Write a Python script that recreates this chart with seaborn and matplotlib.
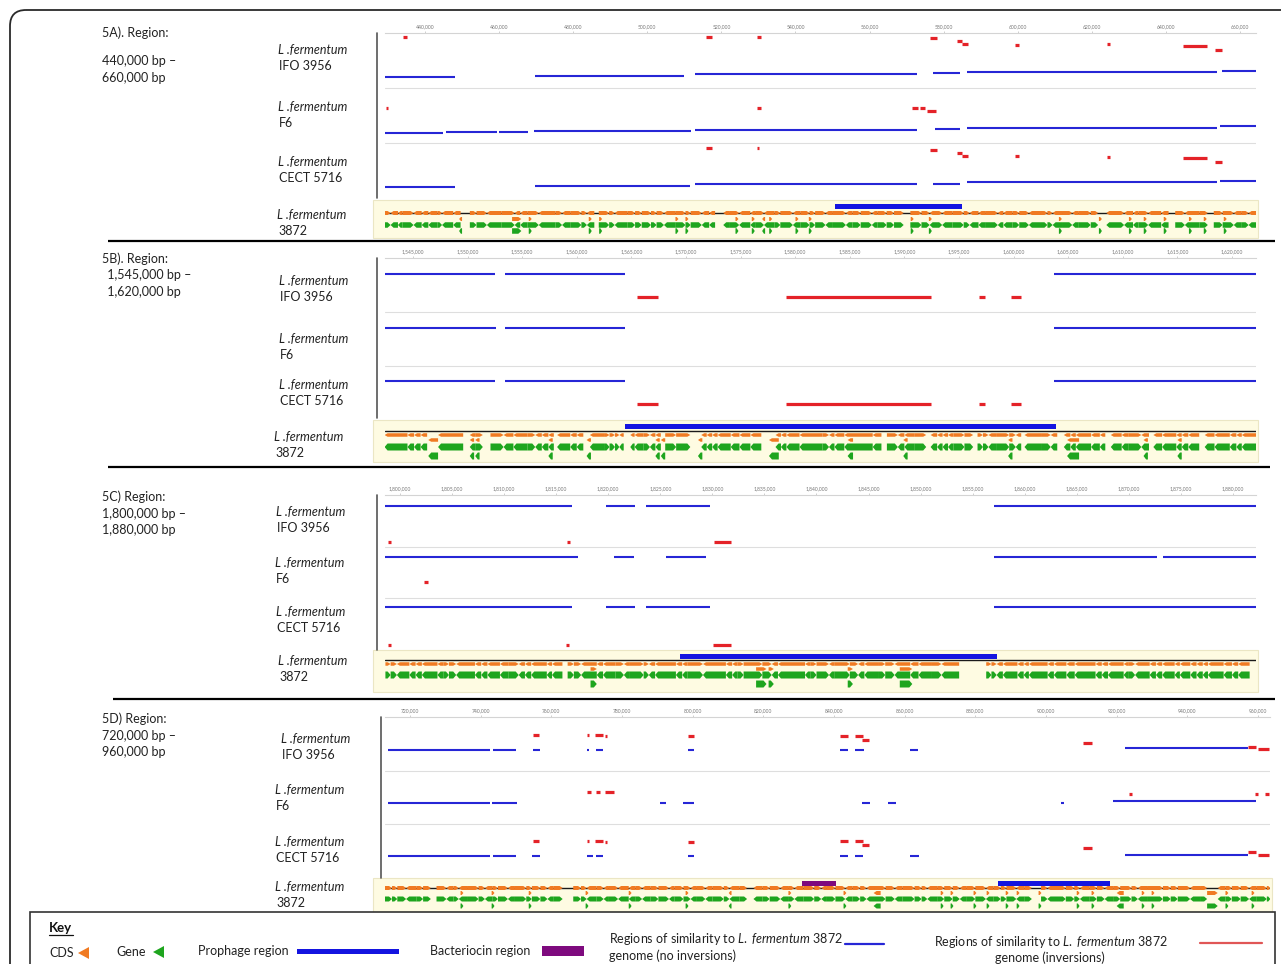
import matplotlib
matplotlib.use("Agg")
import matplotlib.pyplot as plt
import seaborn as sns
import numpy as np
import pandas as pd
from matplotlib.patches import Rectangle, FancyBboxPatch, Polygon
from matplotlib.collections import PolyCollection

W, H = 1281, 964

# ------------------------------------------------------------------ data
region_titles = ["5A). Region:", "5B). Region:", "5C) Region:", "5D) Region:"]
region_ranges = [("440,000 bp \u2013", "660,000 bp"),
                 (" 1,545,000 bp \u2013", " 1,620,000 bp"),
                 ("1,800,000 bp \u2013", "1,880,000 bp"),
                 ("720,000 bp \u2013", "960,000 bp")]
strains = ["IFO 3956", "F6", "CECT 5716", "3872"]
tick_start_kb = [440, 1545, 1800, 720]
tick_stop_kb = [660, 1620, 1880, 960]
tick_step_kb = [20, 5, 5, 20]

# similarity blocks (start kb, end kb, level within track)
A_IFO_blue = [(429.2, 448.1, 0.80), (469.7, 509.9, 0.78), (512.9, 572.8, 0.74), (577.1, 584.4, 0.73),
              (586.3, 653.8, 0.71), (655.1, 664.3, 0.69)]
A_IFO_red = [(434.1, 435.1, 0.07), (515.9, 517.5, 0.07), (529.6, 530.7, 0.07), (576.3, 578.2, 0.09),
             (583.6, 584.9, 0.15), (584.9, 586.6, 0.20), (599.3, 600.3, 0.22), (624.1, 624.9, 0.20),
             (644.6, 651.1, 0.24), (653.3, 655.1, 0.31)]
A_F6_blue = [(429.2, 444.9, 0.81), (445.7, 459.4, 0.80), (460.0, 467.8, 0.80), (469.4, 511.8, 0.78),
             (512.9, 572.8, 0.76), (577.7, 584.4, 0.74), (586.3, 653.8, 0.72), (654.6, 664.3, 0.70)]
A_F6_red = [(429.5, 430.0, 0.37), (529.6, 530.7, 0.37), (571.5, 573.1, 0.37), (573.6, 575.0, 0.37),
            (575.5, 577.9, 0.41)]
A_CECT_blue = [(429.2, 448.1, 0.80), (469.7, 511.5, 0.79), (512.9, 572.8, 0.75), (577.1, 584.4, 0.75),
               (586.3, 653.8, 0.71), (654.6, 664.3, 0.70)]
A_CECT_red = [(515.9, 517.5, 0.09), (529.6, 530.2, 0.09), (576.3, 578.2, 0.13), (583.6, 584.9, 0.18),
              (584.9, 586.6, 0.23), (599.3, 600.3, 0.23), (624.1, 624.9, 0.25), (644.6, 651.1, 0.27),
              (653.3, 655.1, 0.34)]

B_IFO_blue = [(1542.4, 1552.5, 0.30), (1553.4, 1564.4, 0.30), (1603.7, 1622.2, 0.30)]
B_IFO_red = [(1565.5, 1567.4, 0.72), (1579.2, 1592.4, 0.72), (1596.8, 1597.4, 0.72), (1599.8, 1600.7, 0.72)]
B_F6_blue = [(1542.4, 1552.6, 0.30), (1553.4, 1564.4, 0.30), (1603.7, 1622.2, 0.30)]
B_F6_red = []
B_CECT_blue = [(1542.4, 1552.5, 0.28), (1553.4, 1564.4, 0.28), (1603.7, 1622.2, 0.28)]
B_CECT_red = [(1565.5, 1567.4, 0.70), (1579.2, 1592.4, 0.70), (1596.8, 1597.4, 0.70), (1599.8, 1600.7, 0.70)]

C_IFO_blue = [(1798.6, 1816.5, 0.21), (1819.8, 1822.6, 0.21), (1823.6, 1829.8, 0.21), (1857.0, 1882.2, 0.21)]
C_IFO_red = [(1798.85, 1799.15, 0.91), (1816.0, 1816.3, 0.91), (1830.2, 1831.8, 0.91)]
C_F6_blue = [(1798.6, 1817.1, 0.20), (1820.6, 1822.5, 0.20), (1825.5, 1829.4, 0.20), (1857.0, 1872.7, 0.20),
             (1873.3, 1882.2, 0.20)]
C_F6_red = [(1802.3, 1802.7, 0.68)]
C_CECT_blue = [(1798.6, 1816.5, 0.17), (1819.8, 1822.6, 0.17), (1823.6, 1829.8, 0.17), (1857.0, 1882.2, 0.17)]
C_CECT_red = [(1798.85, 1799.15, 0.90), (1815.9, 1816.2, 0.90), (1830.1, 1831.8, 0.90)]

D_IFO_blue = [(713.8, 742.6, 0.61), (743.5, 750.0, 0.61), (754.8, 756.8, 0.61), (770.1, 770.7, 0.61),
              (772.6, 774.6, 0.61), (798.7, 800.4, 0.61), (841.7, 844.0, 0.61), (846.0, 848.5, 0.61),
              (861.5, 863.8, 0.61), (922.4, 957.2, 0.58)]
D_IFO_red = [(754.8, 756.5, 0.34), (770.1, 770.7, 0.34), (772.4, 774.6, 0.34), (775.2, 775.8, 0.36),
             (798.7, 800.4, 0.36), (841.7, 844.0, 0.36), (846.0, 848.2, 0.36), (847.9, 849.9, 0.42),
             (910.5, 913.0, 0.48), (957.2, 959.4, 0.56), (959.9, 963.1, 0.60)]
D_F6_blue = [(713.8, 742.6, 0.60), (743.2, 750.3, 0.60), (790.8, 792.5, 0.60), (797.3, 800.4, 0.60),
             (847.9, 850.2, 0.60), (855.3, 857.5, 0.60), (904.3, 905.1, 0.60), (918.9, 959.4, 0.57)]
D_F6_red = [(770.1, 771.2, 0.40), (772.6, 773.8, 0.40), (775.2, 777.7, 0.40), (923.5, 924.3, 0.44),
            (959.2, 959.9, 0.44), (962.0, 963.1, 0.44)]
D_CECT_blue = [(713.8, 742.6, 0.59), (743.5, 750.0, 0.59), (754.5, 756.8, 0.59), (770.1, 771.8, 0.59),
               (772.6, 774.6, 0.59), (798.7, 800.4, 0.59), (841.7, 844.0, 0.59), (846.0, 848.2, 0.59),
               (861.5, 864.0, 0.59), (922.4, 957.2, 0.57)]
D_CECT_red = [(754.8, 756.5, 0.31), (770.1, 770.7, 0.31), (772.4, 774.6, 0.31), (775.2, 775.8, 0.33),
              (798.7, 800.4, 0.33), (841.7, 844.0, 0.31), (846.0, 848.2, 0.31), (847.9, 849.9, 0.38),
              (910.5, 913.0, 0.44), (957.2, 959.4, 0.52), (959.9, 963.1, 0.57)]

# annotated features of L. fermentum 3872 (kb)
prophage_A = [(550.7, 585.0)]
prophage_B = [(1564.4, 1603.9)]
prophage_C = [(1826.9, 1857.3)]
prophage_D = [(886.4, 918.1)]
bacteriocin_D = [(830.9, 840.6)]

# gene runs: (length kb, strand) ; 'g' = intergenic stretch
gene_start = [429.2, 1542.4, 1798.6, 712.9]
genes_A = [(1.5, '+'), (2.0, '-'), (1.2, '-'), (3.0, '+'), (2.2, '-'), (1.8, '-'), (2.5, '-'), (1.2, '+'), (3.0, '-'), (2.0, '-'),
           (2.5, 'g'), (1.8, '+'), (2.8, '+'), (4.0, '-'), (3.5, '+'), (1.5, '-'), (2.0, '-'), (3.0, '+'), (4.5, '-'), (1.8, '+'),
           (2.2, '-'), (3.0, '+'), (1.5, '+'), (2.0, '-'), (1.2, 'g'), (2.8, '+'), (1.5, '+'), (3.5, '-'), (2.0, '+'), (1.8, '+'),
           (2.5, '+'), (1.5, '+'), (2.0, '+'), (3.2, '-'), (2.6, '+'), (1.4, '+'), (3.0, '+'), (2.0, '-'), (1.6, '-'), (2.2, 'g'),
           (1.8, '-'), (2.5, '+'), (3.0, '-'), (1.5, '-'), (2.2, '+'), (2.8, '-'), (1.6, '+'), (3.4, '+'), (2.0, '-'), (2.5, '+'),
           (1.5, '+'), (2.8, '+'), (2.0, '-'), (3.5, '+'), (1.8, '-'), (2.2, '+'), (3.0, '+'), (1.5, '-'), (2.5, '+'), (2.0, '+'),
           (2.6, '+'), (1.8, 'g'), (3.0, '+'), (2.2, '+'), (2.0, '-'), (1.4, '+'), (2.8, '-'), (3.0, '+'), (1.6, '+'), (2.4, '-'),
           (2.0, '-'), (3.2, '+'), (1.5, '-'), (2.5, '-'), (1.8, '+'), (2.6, '+'), (3.0, '-'), (2.0, '+'), (1.4, '+'), (2.8, '-'),
           (2.5, '+'), (1.6, '-'), (3.4, '+'), (2.0, '+'), (2.2, 'g'), (1.8, '-'), (3.0, '+'), (2.4, '-'), (1.5, '-'), (2.6, '+'),
           (3.5, '-'), (2.0, '-'), (1.8, 'g'), (2.6, '+'), (4.0, '-'), (2.2, '+'), (1.6, 'g'), (2.4, '+'), (3.0, '+'), (2.0, '-'),
           (2.0, '+'), (2.0, '-')]
genes_B = [(2.1, '-'), (0.6, '-'), (0.6, '-'), (0.6, '-'), (1.0, 'g'),
           (2.3, '-'), (0.6, 'g'), (0.5, '-'), (0.7, '+'), (0.7, 'g'),
           (1.2, '+'), (0.9, '-'), (1.3, '-'), (0.7, '+'), (0.6, '-'), (0.6, '-'), (0.5, '-'), (0.3, 'g'),
           (1.2, '-'), (0.6, '-'), (0.6, '-'), (0.6, 'g'),
           (1.3, '-'), (0.5, '+'), (0.5, '+'), (0.4, '+'), (0.4, '-'), (0.6, 'g'),
           (0.4, '-'), (0.8, '-'), (0.6, '+'), (0.5, '-'), (0.5, '-'), (0.4, 'g'),
           (1.0, '+'), (1.3, '+'), (1.0, 'g'),
           (0.5, '-'), (0.5, '-'), (0.5, '-'), (1.2, '-'), (0.8, '-'), (1.0, '-'), (1.0, '-'), (1.3, 'g'),
           (0.5, '-'), (0.5, '-'), (1.2, '-'), (2.1, '-'),
           (0.6, '+'), (0.5, '-'), (0.9, '-'), (2.6, '-'), (0.8, '-'), (0.5, 'g'),
           (1.0, '+'), (0.6, '-'), (0.9, '-'), (1.1, '+'), (0.4, 'g'),
           (0.6, '-'), (0.5, '-'), (0.5, '-'), (0.5, '-'), (1.0, '+'), (0.8, '+'), (0.4, 'g'),
           (0.5, '+'), (0.5, '+'), (0.7, '-'), (1.2, '+'), (0.6, '+'), (0.5, '-'), (0.3, 'g'),
           (1.6, '-'), (0.8, '+'), (0.6, '-'), (0.6, 'g'),
           (0.6, '-'), (0.5, '-'), (1.4, '-'), (0.8, '-'), (0.5, '-'), (0.5, 'g'),
           (1.0, '-'), (0.6, '-'), (1.2, '+'), (0.7, '-'), (0.4, 'g'),
           (0.8, '-'), (1.3, '-'), (0.5, '-'), (0.6, '-'), (1.0, '-'), (0.5, 'g'),
           (0.9, '-'), (1.4, '-'), (0.6, '-'), (0.5, '-'), (1.3, '-')]
genes_C = [(0.5, '+'), (0.6, '+'), (1.2, '-'), (0.6, '-'), (0.6, '-'), (1.5, '-'), (0.6, '-'), (0.5, '+'), (0.7, '+'), (1.8, '-'),
           (0.6, '-'), (0.6, '-'), (1.2, '-'), (0.8, '-'), (1.0, '+'), (0.6, '-'), (0.6, '-'), (1.5, '-'), (0.5, '-'), (1.0, '-'),
           (0.5, 'g'),
           (0.6, '+'), (0.7, '+'), (1.5, '-'), (0.6, '-'), (1.2, '-'), (0.8, '+'), (0.5, '-'), (1.4, '+'), (0.5, '+'), (0.6, '-'),
           (2.0, '-'), (0.6, '-'), (0.5, '-'), (1.5, '+'), (2.2, '-'), (0.6, '-'), (0.5, '-'), (0.6, '+'), (1.8, '+'), (0.9, '+'),
           (0.6, '-'), (2.6, '-'), (0.5, '-'), (0.6, '+'), (1.2, '+'), (0.5, '-'), (1.5, '+'), (0.8, '+'), (0.6, '-'), (1.4, '-'),
           (0.6, '+'), (0.9, '+'), (1.5, '-'), (0.8, '-'), (1.2, '-'), (1.0, '+'), (1.7, '-'), (2.6, 'g'),
           (0.5, '+'), (0.5, '+'), (0.6, '-'), (1.4, '-'), (0.6, '-'), (0.5, '-'), (1.8, '-'), (0.6, '-'), (1.2, '-'), (0.8, '-'),
           (2.0, '-'), (0.6, '-'), (0.6, '-'), (1.5, '-'), (0.5, '-'), (0.6, '+'), (1.4, '-'), (0.6, '-'), (0.6, '-'), (1.2, '-'),
           (0.5, '-'), (1.0, '-'), (0.6, '-'), (0.6, '-'), (0.5, '-'), (1.5, '-'), (0.8, '-'), (0.6, '-'), (1.1, '-')]
genes_D = [(2.0, '+'), (1.5, '+'), (2.5, '+'), (3.0, '-'), (1.8, '+'), (2.2, '+'), (1.6, 'g'), (2.8, '+'), (2.0, '-'), (1.5, '+'),
           (2.6, '-'), (3.0, '+'), (1.8, '+'), (2.2, '-'), (1.5, '+'), (2.8, '+'), (2.0, '-'), (3.2, '+'), (1.6, '+'), (2.4, '+'),
           (2.0, '+'), (1.8, '-'), (2.5, '+'), (3.0, 'g'), (2.2, '+'), (1.6, '+'), (2.8, '-'), (2.0, '+'), (1.5, '-'), (2.6, '+'),
           (3.0, '-'), (2.0, '-'), (1.8, '+'), (2.4, '-'), (2.2, '+'), (3.0, '+'), (1.6, '-'), (2.5, '+'), (2.0, '+'), (1.8, '-'),
           (2.4, '+'), (2.0, '-'), (3.2, '+'), (1.6, '+'), (2.8, '-'), (2.2, '+'), (1.8, 'g'), (2.6, '-'), (2.0, '+'), (3.0, '+'),
           (2.2, '-'), (1.8, '+'), (2.6, '-'), (3.0, '+'), (2.0, '+'), (1.6, '-'), (2.4, '+'), (2.8, '+'), (2.0, '-'), (2.2, '+'),
           (1.8, '+'), (2.4, '-'), (3.0, '+'), (2.6, '+'), (2.2, '-'), (3.4, '+'), (2.0, '+'), (1.6, '+'), (2.8, '-'), (2.0, '+'),
           (2.4, '+'), (2.0, '+'), (1.8, '-'), (2.6, '+'), (3.0, '+'), (2.2, '-'), (2.0, '+'), (1.6, '+'), (2.8, '+'), (2.4, '-'),
           (2.0, '+'), (2.6, 'g'), (1.8, '+'), (3.0, '-'), (2.2, '+'), (2.4, '+'), (1.6, '+'), (2.8, '-'), (2.0, '+'), (2.2, '+'),
           (2.4, '-'), (2.0, '+'), (3.2, '+'), (1.8, '+'), (2.6, '-'), (4.5, '+'), (2.2, '+'), (2.0, '+'), (3.5, '+'), (2.8, '-'),
           (2.0, '+'), (3.0, 'g'), (2.2, '-'), (1.8, '+'), (2.5, '+'), (2.4, '+'), (2.0, '-'), (3.0, '+'), (1.0, '+')]

# genes drawn on the offset (overlap) row: (start kb, end kb, strand)
lower_A = [(449.2, 450.0, '-'), (463.5, 466.0, '+'), (468.0, 468.8, '+'), (484.2, 485.0, '+'), (487.0, 487.8, '+'),
           (507.6, 508.4, '+'), (510.3, 511.1, '+'), (523.8, 524.6, '+'), (528.2, 529.0, '+'), (531.0, 531.8, '-'),
           (532.9, 533.7, '+'), (540.0, 540.8, '+'), (543.6, 544.4, '+'), (571.1, 571.9, '+'), (576.0, 576.8, '+'),
           (611.1, 611.9, '+'), (621.9, 622.7, '+'), (630.0, 630.8, '+'), (634.0, 634.8, '+'), (639.4, 640.2, '+'),
           (646.2, 647.0, '+'), (650.2, 651.0, '+'), (655.6, 656.4, '+')]
lower_B = [(1546.4, 1547.3, '-'), (1550.2, 1550.6, '-'), (1550.7, 1551.1, '-'), (1557.4, 1557.8, '-'),
           (1560.9, 1561.3, '-'), (1567.2, 1567.6, '-'), (1567.7, 1568.1, '-'), (1571.1, 1571.5, '-'),
           (1577.6, 1578.5, '-'), (1584.8, 1585.3, '-'), (1589.9, 1590.3, '-'), (1599.5, 1599.9, '-'),
           (1604.9, 1606.0, '-'), (1611.9, 1612.3, '-'), (1615.0, 1615.4, '-')]
lower_C = [(1818.3, 1818.9, '+'), (1834.2, 1835.2, '+'), (1835.4, 1835.9, '+'), (1843.0, 1843.5, '+'),
           (1848.0, 1849.2, '+')]
lower_D = [(734.3, 735.1, '+'), (743.1, 743.9, '+'), (753.6, 754.4, '+'), (769.7, 770.5, '+'), (781.9, 782.7, '+'),
           (798.0, 798.8, '+'), (810.2, 811.0, '-'), (827.1, 827.9, '+'), (842.7, 843.5, '+'), (851.2, 853.2, '-'),
           (870.2, 871.0, '+'), (873.0, 873.8, '+'), (879.5, 880.3, '+'), (883.2, 884.0, '+'), (888.6, 889.4, '+'),
           (891.7, 892.5, '+'), (897.9, 898.7, '+'), (908.7, 909.5, '+'), (912.9, 913.7, '+'), (920.0, 922.0, '-'),
           (927.1, 927.9, '+'), (929.9, 930.7, '+'), (945.6, 948.6, '+'), (950.8, 951.6, '+'), (958.2, 959.0, '+')]

panel_blue = [[A_IFO_blue, A_F6_blue, A_CECT_blue], [B_IFO_blue, B_F6_blue, B_CECT_blue],
              [C_IFO_blue, C_F6_blue, C_CECT_blue], [D_IFO_blue, D_F6_blue, D_CECT_blue]]
panel_red = [[A_IFO_red, A_F6_red, A_CECT_red], [B_IFO_red, B_F6_red, B_CECT_red],
             [C_IFO_red, C_F6_red, C_CECT_red], [D_IFO_red, D_F6_red, D_CECT_red]]
panel_genes = [genes_A, genes_B, genes_C, genes_D]
panel_lower = [lower_A, lower_B, lower_C, lower_D]
panel_prophage = [prophage_A, prophage_B, prophage_C, prophage_D]
panel_bacteriocin = [[], [], [], bacteriocin_D]

# ------------------------------------------------------------------ style / layout
BLUE = '#2626d6'
RED = '#e42228'
PROPH = '#1414e0'
ORANGE = '#f07a22'
GREEN = '#1ea51e'
PURPLE = '#7e0a7e'
YELLOW = '#fefbe2'

layout = [
    dict(track=(385, 33, 1256, 198), gene=(385, 200, 1256, 238), yel=(373, 200, 1258, 238), xlim=(429.2, 664.3),
         vline=(377, 33, 198), title=(102, 33), rng=[(102, 61), (102, 78)], labx=[278, 278, 278, 277],
         laby=[(50, 66), (107, 123), (162, 178), (215, 231)],
         rows=dict(pro=6, back=13, oy=13, oly=19, gy=25, gly=31, oh=4, gh=5.5)),
    dict(track=(385, 258, 1256, 420), gene=(385, 420, 1256, 462), yel=(373, 420, 1258, 462), xlim=(1542.44, 1622.2),
         vline=(377, 258, 418), title=(102, 259), rng=[(104, 275), (104, 292)], labx=[279, 279, 279, 274],
         laby=[(281, 297), (339, 355), (385, 401), (437, 453)],
         rows=dict(pro=6, back=11, oy=15, oly=20, gy=27, gly=36, oh=3.5, gh=7)),
    dict(track=(385, 495, 1256, 650), gene=(385, 650, 1256, 692), yel=(373, 650, 1258, 692), xlim=(1798.56, 1882.21),
         vline=(377, 495, 650), title=(102, 497), rng=[(102, 514), (102, 530)], labx=[276, 275, 276, 278],
         laby=[(512, 528), (563, 579), (612, 628), (661, 677)],
         rows=dict(pro=6, back=10, oy=14, oly=19, gy=25, gly=34, oh=3.5, gh=7)),
    dict(track=(385, 717, 1270, 878), gene=(385, 878, 1270, 912), yel=(373, 878, 1272, 912), xlim=(712.92, 963.4),
         vline=(381, 717, 878), title=(102, 719), rng=[(102, 736), (102, 752)], labx=[281, 275, 275, 275],
         laby=[(739, 755), (790, 806), (842, 858), (887, 903)],
         rows=dict(pro=5, back=10, oy=10, oly=15, gy=21, gly=28, oh=4, gh=5)),
]

sns.set_theme(style="white")
plt.rcParams['font.family'] = ['Lato', 'DejaVu Sans']
plt.rcParams['mathtext.fontset'] = 'custom'
plt.rcParams['mathtext.rm'] = 'Lato'
plt.rcParams['mathtext.it'] = 'Lato:italic'
plt.rcParams['mathtext.bf'] = 'Lato:bold'

fig = plt.figure(figsize=(W / 100, H / 100), dpi=100)
ov = fig.add_axes([0, 0, 1, 1])
ov.set_xlim(0, W)
ov.set_ylim(H, 0)
ov.axis('off')
ov.set_zorder(0)


def fax(x0, y0, x1, y1):
    a = fig.add_axes([x0 / W, 1 - y1 / H, (x1 - x0) / W, (y1 - y0) / H])
    a.set_zorder(2)
    a.patch.set_alpha(0)
    return a


def seg_frame(tracks):
    rows = []
    uid = 0
    for ti, segs in enumerate(tracks):
        for (a, b, lev) in segs:
            rows.append((uid, a, ti + lev))
            rows.append((uid, b, ti + lev))
            uid += 1
    return pd.DataFrame(rows, columns=["seg", "kb", "y"])


def arrow_poly(a, b, strand, yc, h, head):
    hd = min(head, 0.6 * (b - a))
    if strand == '+':
        return [(a, yc - h / 2), (b - hd, yc - h / 2), (b, yc), (b - hd, yc + h / 2), (a, yc + h / 2)]
    return [(b, yc - h / 2), (a + hd, yc - h / 2), (a, yc), (a + hd, yc + h / 2), (b, yc + h / 2)]


FS = 9
FSL = 9
# outer rounded frame
ov.add_patch(FancyBboxPatch((10, 10), 1320, 1020, boxstyle="round,pad=0,rounding_size=16",
                            fc='none', ec='#2a2a2a', lw=1.3))
# panel separators
for (x0, y, x1) in [(108, 241, 1275), (108, 467, 1270), (113, 699, 1275)]:
    ov.plot([x0, x1], [y, y], color='black', lw=1.6, solid_capstyle='butt')

for p, L in enumerate(layout):
    # left texts
    ov.text(*L['title'], region_titles[p], fontsize=FS, va='center', ha='left', color='#222')
    for (xy, s) in zip(L['rng'], region_ranges[p]):
        ov.text(*xy, s, fontsize=FS, va='center', ha='left', color='#222')
    for i, (y1, y2) in enumerate(L['laby']):
        ov.text(L['labx'][i], y1, "L .fermentum", fontsize=FSL, style='italic', va='center', ha='left', color='#222')
        ov.text(L['labx'][i] + 1, y2, strains[i], fontsize=FSL, va='center', ha='left', color='#222')
    # yellow reference band
    yx0, yy0, yx1, yy1 = L['yel']
    ov.add_patch(Rectangle((yx0, yy0), yx1 - yx0, yy1 - yy0, fc=YELLOW, ec='#ebe6c4', lw=0.8))
    vx, vy0, vy1 = L['vline']
    ov.plot([vx, vx], [vy0, vy1], color='#555', lw=1.2)

    # ---------------- similarity tracks
    ax = fax(*L['track'])
    dfb = seg_frame(panel_blue[p])
    sns.lineplot(data=dfb, x='kb', y='y', units='seg', estimator=None, color=BLUE, lw=1.5,
                 ax=ax, legend=False, solid_capstyle='butt')
    dfr = seg_frame(panel_red[p])
    if len(dfr):
        sns.lineplot(data=dfr, x='kb', y='y', units='seg', estimator=None, color=RED, lw=2.3,
                     ax=ax, legend=False, solid_capstyle='butt')
    for yb in (1, 2):
        ax.axhline(yb, color='#dedede', lw=0.8, zorder=0)
    ax.set_xlim(*L['xlim'])
    ax.set_ylim(3, 0)
    ticks = np.arange(tick_start_kb[p], tick_stop_kb[p] + tick_step_kb[p] / 2, tick_step_kb[p])
    ax.set_xticks(ticks)
    ax.set_xticklabels([f"{int(round(t * 1000)):,}" for t in ticks])
    ax.set_yticks([])
    ax.set_xlabel('')
    ax.set_ylabel('')
    ax.xaxis.set_ticks_position('top')
    ax.tick_params(axis='x', top=True, bottom=False, labeltop=True, labelbottom=False, length=1.5,
                   width=0.5, color='#bbbbbb', labelsize=3.6, labelcolor='#777777', pad=1.5)
    for s in ('left', 'right', 'bottom'):
        ax.spines[s].set_visible(False)
    ax.spines['top'].set_color('#d4d4d4')
    ax.spines['top'].set_linewidth(0.8)

    # ---------------- reference genome track
    gx0, gy0, gx1, gy1 = L['gene']
    g = fax(gx0, gy0, gx1, gy1)
    g.set_xlim(*L['xlim'])
    g.set_ylim(gy1 - gy0, 0)
    g.axis('off')
    R = L['rows']
    kbpx = (L['xlim'][1] - L['xlim'][0]) / (gx1 - gx0)
    head = 3.0 * kbpx
    g.plot(L['xlim'], [R['back'], R['back']], color='#1a1a1a', lw=1.0, zorder=1)
    opolys, gpolys = [], []
    x = gene_start[p]
    for (ln, st) in panel_genes[p]:
        if st in '+-':
            opolys.append(arrow_poly(x, x + ln, st, R['oy'], R['oh'], head))
            gpolys.append(arrow_poly(x, x + ln, st, R['gy'], R['gh'], head))
        x += ln
    for (a, b, st) in panel_lower[p]:
        opolys.append(arrow_poly(a, b, st, R['oly'], R['oh'], head))
        gpolys.append(arrow_poly(a, b, st, R['gly'], R['gh'], head))
    g.add_collection(PolyCollection(opolys, facecolors=ORANGE, edgecolors='none', zorder=2))
    g.add_collection(PolyCollection(gpolys, facecolors=GREEN, edgecolors='none', zorder=2))
    for (a, b) in panel_prophage[p]:
        g.add_patch(Rectangle((a, R['pro'] - 2.5), b - a, 5, fc=PROPH, ec='none', zorder=3))
    for (a, b) in panel_bacteriocin[p]:
        g.add_patch(Rectangle((a, R['pro'] - 2.5), b - a, 5, fc=PURPLE, ec='none', zorder=3))

# ------------------------------------------------------------------ key
ov.add_patch(Rectangle((30, 912), 1245, 100, fc='white', ec='#333333', lw=1.2))
ov.text(49, 928, "Key", fontsize=9.5, fontweight='bold', va='center', ha='left', color='#111')
ov.plot([49, 73], [935, 935], color='#111', lw=0.9)
ov.text(49, 953, "CDS", fontsize=FS, va='center', ha='left', color='#222')
ov.add_patch(Polygon([(78, 953), (89, 947), (89, 959)], closed=True, fc=ORANGE, ec='none'))
ov.text(116, 952, "Gene", fontsize=FS, va='center', ha='left', color='#222')
ov.add_patch(Polygon([(153, 952), (164, 946), (164, 958)], closed=True, fc=GREEN, ec='none'))
ov.text(198, 951, "Prophage region", fontsize=FS, va='center', ha='left', color='#222')
ov.add_patch(Rectangle((297, 948.5), 102, 5, fc=PROPH, ec='none'))
ov.text(430, 951, "Bacteriocin region", fontsize=FS, va='center', ha='left', color='#222')
ov.add_patch(Rectangle((542, 946), 42, 10, fc=PURPLE, ec='none'))
ov.text(609, 939, r"Regions of similarity to $\mathit{L.\ fermentum}$ 3872", fontsize=FS, va='center', ha='left', color='#222')
ov.text(609, 956, "genome (no inversions)", fontsize=FS, va='center', ha='left', color='#222')
ov.plot([845, 884], [944, 944], color=BLUE, lw=1.6)
ov.text(934, 942, r"Regions of similarity to $\mathit{L.\ fermentum}$ 3872", fontsize=FS, va='center', ha='left', color='#222')
ov.text(1050, 958, "genome (inversions)", fontsize=FS, va='center', ha='center', color='#222')
ov.plot([1200, 1262], [943, 943], color='#e05656', lw=1.6)

fig.savefig("out.png", dpi=100)
